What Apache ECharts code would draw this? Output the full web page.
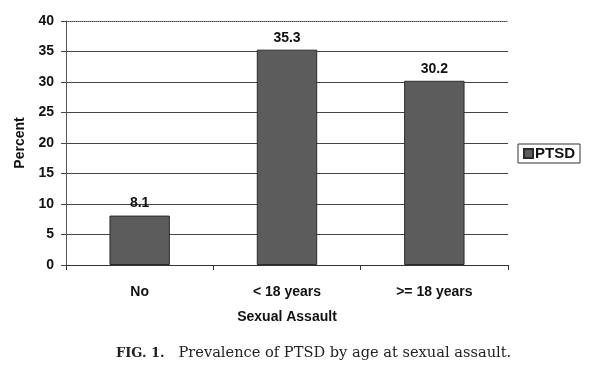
<!DOCTYPE html>
<html><head><meta charset="utf-8">
<script src="https://cdn.jsdelivr.net/npm/echarts@6/dist/echarts.min.js"></script>
<style>html,body{margin:0;padding:0;background:#fff}#c{width:595px;height:367px}</style>
</head><body><div id="c"></div>
<script>
const categories = ['No', '< 18 years', '>= 18 years'];
const ptsdValues = [8.1, 35.3, 30.2];
const seriesName = 'PTSD';
const yTicks = [0, 5, 10, 15, 20, 25, 30, 35, 40];

const chart = echarts.init(document.getElementById('c'), null, {renderer: 'canvas'});
const F = 'Liberation Sans, Arial, sans-serif';
const S = 'DejaVu Serif, Liberation Serif, serif';
chart.setOption({
  animation: false,
  backgroundColor: '#fff',
  grid: {left: 66, top: 21, width: 442, height: 244, containLabel: false},
  title: {
    text: '{b|FIG. 1.}   Prevalence of PTSD by age at sexual assault.',
    left: 111, top: 341,
    textStyle: {fontFamily: S, fontSize: 14.6, fontWeight: 'normal', color: '#222',
      rich: {b: {fontFamily: S, fontSize: 13, fontWeight: 'bold', color: '#222'}}}
  },
  legend: {
    data: [{name: seriesName, icon: 'rect'}], left: 518, top: 144, orient: 'vertical',
    itemWidth: 9, itemHeight: 9, itemGap: 4,
    padding: [2, 5, 2, 5], borderColor: '#333', borderWidth: 1,
    textStyle: {fontFamily: F, fontSize: 15, fontWeight: 'bold', color: '#111', padding: [0, 0, 0, -3]}
  },
  xAxis: [{
    type: 'category', data: categories, position: 'bottom',
    axisLine: {lineStyle: {color: '#333', width: 1}},
    axisTick: {show: true, length: 5, alignWithLabel: false, lineStyle: {color: '#333'}},
    axisLabel: {fontFamily: F, fontSize: 14, fontWeight: 'bold', color: '#111', margin: 20},
    name: 'Sexual Assault', nameLocation: 'middle', nameGap: 45,
    nameTextStyle: {fontFamily: F, fontSize: 14, fontWeight: 'bold', color: '#111'}
  }, {
    type: 'category', data: categories, position: 'top',
    axisLine: {show: true, lineStyle: {color: '#444', type: 'dotted', width: 1}},
    axisTick: {show: false}, axisLabel: {show: false}
  }],
  yAxis: {
    type: 'value', min: 0, max: 40, interval: 5,
    axisLine: {show: true, lineStyle: {color: '#555', width: 1}},
    axisTick: {show: true, length: 5, lineStyle: {color: '#444'}},
    axisLabel: {fontFamily: F, fontSize: 14, fontWeight: 'bold', color: '#111', margin: 12,
      formatter: v => yTicks.includes(v) ? String(v) : ''},
    splitLine: {show: true, showMaxLine: false, lineStyle: {color: '#444', width: 1}},
    name: 'Percent', nameLocation: 'middle', nameGap: 39, nameRotate: 90,
    nameTextStyle: {fontFamily: F, fontSize: 14, fontWeight: 'bold', color: '#111'}
  },
  series: [{
    name: seriesName, type: 'bar', data: ptsdValues, barWidth: '41%',
    itemStyle: {color: '#5c5c5c', borderColor: '#2b2b2b', borderWidth: 1},
    label: {show: true, position: 'top', distance: 5, fontFamily: F, fontSize: 14, fontWeight: 'bold', color: '#111'}
  }]
});
</script></body></html>
